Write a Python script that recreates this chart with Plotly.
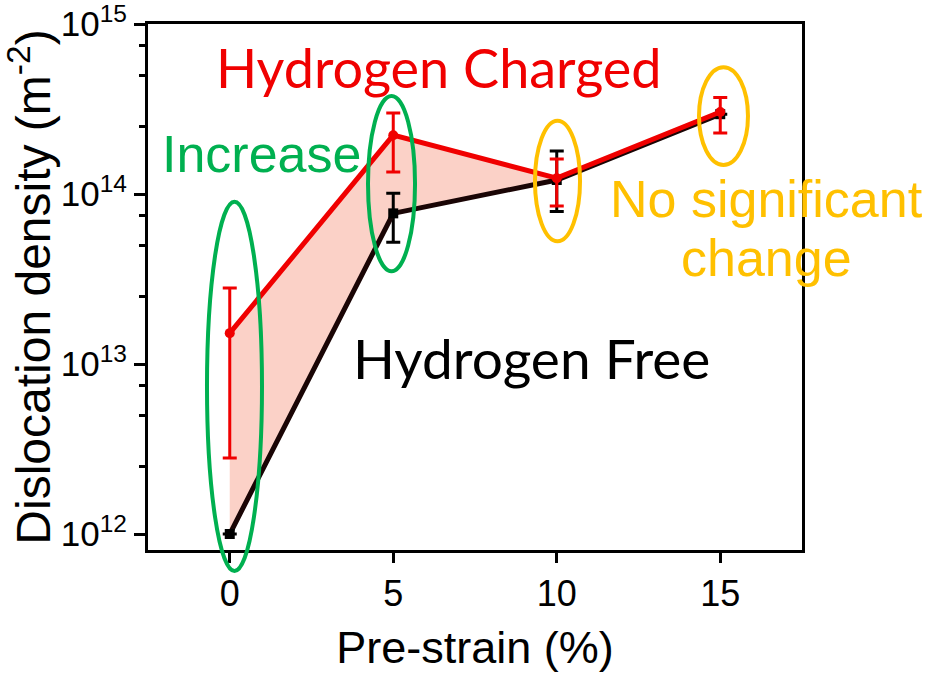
import plotly.graph_objects as go

# Pre-strain levels (%)
pre_strain = [0, 5, 10, 15]

# Dislocation density (m^-2), hydrogen-free specimens
free_density = [1.0e12, 7.7e13, 1.21e14, 2.95e14]
free_upper = [1.0e12, 1.01e14, 1.79e14, 2.95e14]
free_lower = [1.0e12, 5.2e13, 7.9e13, 2.95e14]

# Dislocation density (m^-2), hydrogen-charged specimens
charged_density = [1.52e13, 2.22e14, 1.24e14, 3.04e14]
charged_upper = [2.8e13, 3.0e14, 1.61e14, 3.7e14]
charged_lower = [2.8e12, 1.35e14, 8.5e13, 2.29e14]

y_tick_vals = [1e12, 1e13, 1e14, 1e15]
y_tick_text = ["10<sup>12</sup>", "10<sup>13</sup>", "10<sup>14</sup>", "10<sup>15</sup>"]
x_tick_vals = [0, 5, 10, 15]

RED = "#f00000"
DARK = "#1a0505"
GREEN = "#00b050"
GOLD = "#ffc000"
ARIAL = "Arial, Liberation Sans, sans-serif"
HUMANIST = "Lato, Open Sans, sans-serif"


def plus(vals, upper):
    return [u - v for u, v in zip(upper, vals)]


def minus(vals, lower):
    return [v - l for v, l in zip(vals, lower)]


fig = go.Figure()

# shaded band between the two curves
fig.add_trace(go.Scatter(x=pre_strain, y=free_density, mode="lines",
                         line=dict(width=0, color="rgba(0,0,0,0)"),
                         showlegend=False, hoverinfo="skip"))
fig.add_trace(go.Scatter(x=pre_strain, y=charged_density, mode="lines",
                         line=dict(width=0, color="rgba(0,0,0,0)"),
                         fill="tonexty", fillcolor="rgba(242,120,90,0.34)",
                         showlegend=False, hoverinfo="skip"))

# hydrogen-free curve
fig.add_trace(go.Scatter(
    x=pre_strain, y=free_density, mode="lines+markers",
    line=dict(color=DARK, width=5),
    marker=dict(symbol="square", size=10, color="#000000"),
    error_y=dict(type="data", symmetric=False,
                 array=plus(free_density, free_upper),
                 arrayminus=minus(free_density, free_lower),
                 color="#000000", thickness=3, width=7),
    showlegend=False))

# hydrogen-charged curve
fig.add_trace(go.Scatter(
    x=pre_strain, y=charged_density, mode="lines+markers",
    line=dict(color=RED, width=5),
    marker=dict(symbol="circle", size=10, color=RED),
    error_y=dict(type="data", symmetric=False,
                 array=plus(charged_density, charged_upper),
                 arrayminus=minus(charged_density, charged_lower),
                 color=RED, thickness=3, width=7),
    showlegend=False))

# highlight ellipses (paper coordinates so they may run past the frame)
ellipses = [
    (0.0902, -0.040, 0.1743, 0.662, GREEN),
    (0.3364, 0.530, 0.4083, 0.863, GREEN),
    (0.5917, 0.587, 0.6606, 0.816, GOLD),
    (0.8425, 0.732, 0.9174, 0.918, GOLD),
]
for x0, y0, x1, y1, col in ellipses:
    fig.add_shape(type="circle", xref="paper", yref="paper",
                  x0=x0, y0=y0, x1=x1, y1=y1,
                  line=dict(color=col, width=4), layer="above")

labels = [
    ("Hydrogen Charged", 0.445, 0.918, RED, HUMANIST, 54),
    ("Increase", 0.174, 0.752, GREEN, ARIAL, 52),
    ("Hydrogen Free", 0.587, 0.365, "#000000", HUMANIST, 55),
    ("No significant", 0.946, 0.668, GOLD, ARIAL, 52),
    ("change", 0.946, 0.555, GOLD, ARIAL, 52),
]
for text, x, y, col, fam, size in labels:
    fig.add_annotation(text=text, xref="paper", yref="paper", x=x, y=y,
                       xanchor="center", yanchor="middle", showarrow=False,
                       font=dict(color=col, family=fam, size=size))

fig.update_layout(
    width=928, height=673,
    margin=dict(l=148, r=126, t=24, b=123),
    paper_bgcolor="white", plot_bgcolor="white",
    font=dict(family=ARIAL, color="#000000"),
    xaxis=dict(
        range=[-2.5, 17.5], tickvals=x_tick_vals,
        ticks="outside", ticklen=10, tickwidth=3, tickcolor="#000000",
        showline=True, linewidth=3, linecolor="#000000", mirror=True,
        showgrid=False, zeroline=False, automargin=False,
        tickfont=dict(size=36, family=ARIAL),
        title=dict(text="Pre-strain (%)", font=dict(size=45, family=ARIAL), standoff=36),
    ),
    yaxis=dict(
        type="log", range=[11.906, 15.0005],
        tickvals=y_tick_vals, ticktext=y_tick_text, ticklabeloverflow="allow",
        ticks="outside", ticklen=11, tickwidth=3, tickcolor="#000000",
        minor=dict(tickvals=[m * 10 ** e for e in (12, 13, 14) for m in (2.5, 5, 7.5)],
                   ticks="outside", ticklen=6, tickwidth=3, tickcolor="#000000"),
        showline=True, linewidth=3, linecolor="#000000", mirror=True,
        showgrid=False, zeroline=False, automargin=False,
        tickfont=dict(size=35, family=ARIAL),
        title=dict(text="Dislocation density (m<sup>-2</sup>)",
                   font=dict(size=48, family=ARIAL), standoff=8),
    ),
)

fig.write_html("out.html")
